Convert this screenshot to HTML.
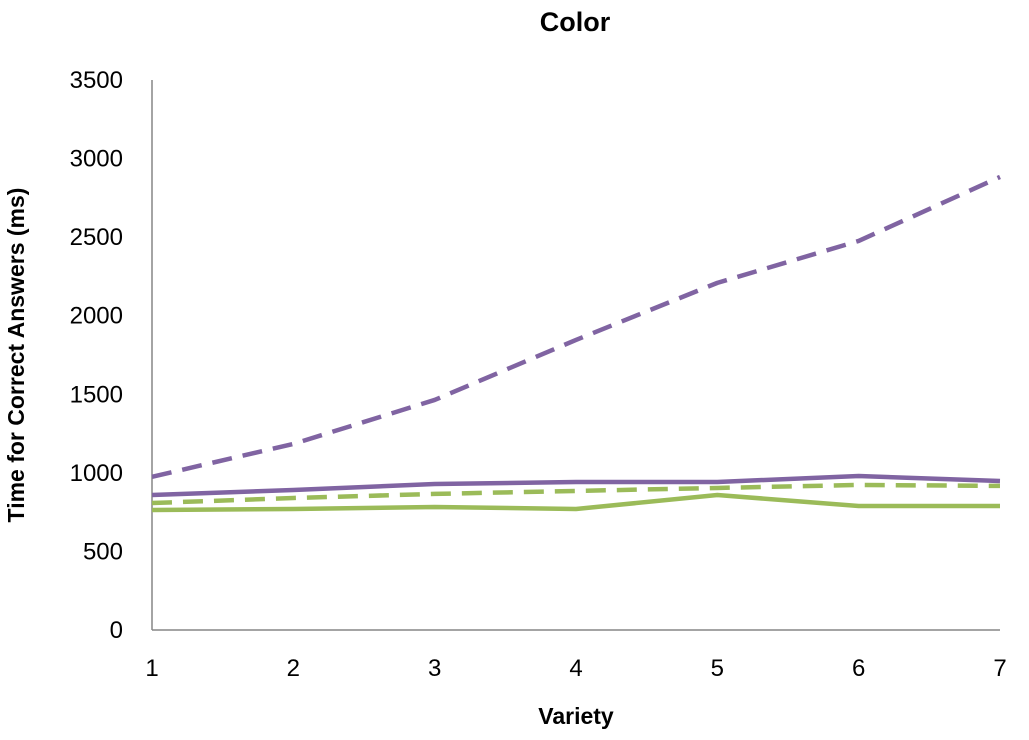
<!DOCTYPE html>
<html><head><meta charset="utf-8"><style>
body{margin:0;background:#fff;width:1029px;height:735px;overflow:hidden}
svg text{font-family:"Liberation Sans",sans-serif;fill:#000}
</style></head><body>
<svg id="chart" width="1029" height="735">
<text x="575" y="31" font-size="27" font-weight="bold" text-anchor="middle">Color</text>
<text transform="translate(24,355) rotate(-90)" font-size="23" font-weight="bold" text-anchor="middle">Time for Correct Answers (ms)</text>
<text x="576" y="724" font-size="23" font-weight="bold" text-anchor="middle">Variety</text>
<g id="axes"></g><g id="series"></g>
</svg>
<script>
const categories=[1,2,3,4,5,6,7];
const yTicks=[0,500,1000,1500,2000,2500,3000,3500];
const purpleDashed=[975,1184,1464,1846,2209,2476,2883];
const purpleSolid=[859,891,929,942,942,980,948];
const greenDashed=[808,840,866,885,904,923,917];
const greenSolid=[764,770,783,770,859,789,789];
const NS="http://www.w3.org/2000/svg";
const x0=152,x1=1000,y0=630,y1=80,yMax=3500;
const xs=c=>x0+(c-1)*(x1-x0)/(categories.length-1);
const ys=v=>y0-v*(y0-y1)/yMax;
const axes=document.getElementById('axes'),ser=document.getElementById('series');
function mk(t,a,p){const e=document.createElementNS(NS,t);for(const k in a)e.setAttribute(k,a[k]);p.appendChild(e);return e;}
let e=mk('line',{x1:x0,y1:y0,x2:x0,y2:y1,stroke:'#868686','stroke-width':1.5},axes);


e=mk('line',{x1:x0,y1:y0,x2:x1,y2:y0,stroke:'#868686','stroke-width':1.5},axes);


yTicks.forEach(v=>{
 const t=mk('text',{x:x0-29,y:ys(v)+8,'font-size':24,'text-anchor':'end'},axes);t.textContent=v;
 
 
});
categories.forEach(c=>{
 const t=mk('text',{x:xs(c),y:y0+46,'font-size':24,'text-anchor':'middle'},axes);t.textContent=c;
 
 
});
function draw(data,color,dash,name){
 const p=mk('polyline',{points:data.map((v,i)=>xs(categories[i])+','+ys(v)).join(' '),fill:'none',stroke:color,'stroke-width':4.5,'stroke-dasharray':dash?'20,11':'none','stroke-linejoin':'round'},ser);
 
 
}
draw(greenSolid,'#9BBB59',false,'series-green-solid');
draw(greenDashed,'#9BBB59',true,'series-green-dashed');
draw(purpleSolid,'#8064A2',false,'series-purple-solid');
draw(purpleDashed,'#8064A2',true,'series-purple-dashed');
</script>
</body></html>
